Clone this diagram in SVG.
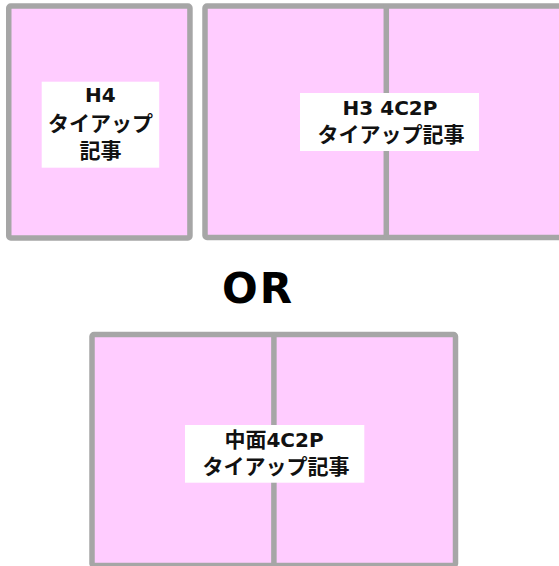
<svg xmlns="http://www.w3.org/2000/svg" width="559" height="566" viewBox="0 0 559 566">
  <style>
    .page { fill: #FFCCFF; stroke: #A6A6A6; stroke-width: 5.5; }
    .fold { stroke: #A6A6A6; stroke-width: 5.5; }
    .label { fill: #FFFFFF; }
    .t { font-family: "DejaVu Sans", "Noto Sans CJK JP", sans-serif; font-weight: bold; fill: #111111; text-anchor: middle; }
    .lat { font-size: 20px; }
    .jp { font-size: 21px; font-family: "Noto Sans CJK JP", sans-serif; }
    .or { font-family: "DejaVu Sans", sans-serif; font-weight: bold; font-size: 42px; letter-spacing: 2px; fill: #000000; text-anchor: middle; }
  </style>
  <rect width="559" height="566" fill="#FFFFFF"/>

  <g id="h4">
    <rect class="page" x="8.75" y="6" width="181.2" height="232" rx="2"/>
    <rect class="label" x="41.7" y="81.7" width="117.5" height="86"/>
    <text class="t lat" x="100.4" y="101.7">H4</text>
    <text class="t jp" x="100.4" y="131.3">タイアップ</text>
    <text class="t jp" x="100.4" y="158">記事</text>
  </g>

  <g id="h3">
    <rect class="page" x="205" y="6" width="370" height="231.5" rx="2"/>
    <line class="fold" x1="386.3" y1="4" x2="386.3" y2="239"/>
    <rect class="label" x="300" y="93" width="179" height="58"/>
    <text class="t lat" x="390" y="114.7">H3 4C2P</text>
    <text class="t jp" x="391" y="141.5">タイアップ記事</text>
  </g>

  <g id="or">
    <text class="or" x="258" y="303">OR</text>
  </g>

  <g id="center">
    <rect class="page" x="92" y="334.5" width="363.5" height="231" rx="2"/>
    <line class="fold" x1="273.9" y1="333" x2="273.9" y2="566"/>
    <rect class="label" x="185" y="425" width="179.3" height="57.7"/>
    <text class="t" x="274" y="446.7"><tspan class="jp">中面</tspan><tspan class="lat">4C2P</tspan></text>
    <text class="t jp" x="276" y="473.7">タイアップ記事</text>
  </g>

  <g id="connectors"/>
</svg>
